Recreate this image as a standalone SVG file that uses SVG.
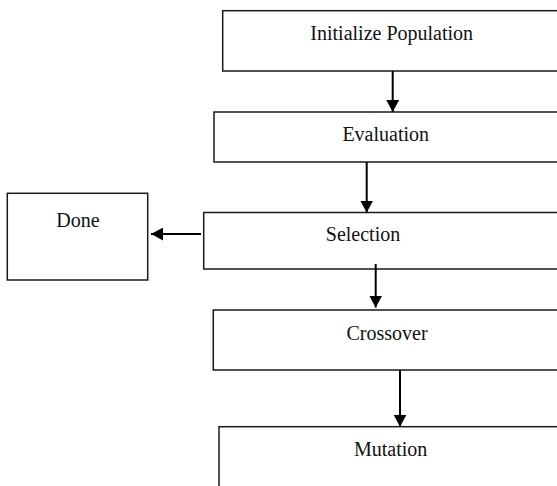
<svg xmlns="http://www.w3.org/2000/svg" width="557" height="486" viewBox="0 0 557 486">
<style>
.box{fill:#fff;stroke:#1a1a1a;stroke-width:1.5}
.lbl{font-family:"Liberation Serif","Times New Roman",serif;font-size:20px;fill:#111;text-anchor:middle}
.arr{stroke:#000;stroke-width:2;fill:none}
</style>
<defs>
<marker id="ah" viewBox="0 0 12 13" refX="12" refY="6.5" markerWidth="12" markerHeight="13" markerUnits="userSpaceOnUse" orient="auto">
<path d="M0,0 L12,6.5 L0,13 Z" fill="#000"/>
</marker>
</defs>
<rect width="557" height="486" fill="#fff"/>
<g id="init"><rect class="box" x="222.7" y="10.7" width="360" height="60.3"/><text class="lbl" x="391.7" y="40">Initialize Population</text></g>
<g id="evaluation"><rect class="box" x="214" y="112" width="370" height="50"/><text class="lbl" x="385.7" y="141">Evaluation</text></g>
<g id="done"><rect class="box" x="7.3" y="193.3" width="140.4" height="86.7"/><text class="lbl" x="78" y="226.5">Done</text></g>
<g id="selection"><rect class="box" x="203.7" y="212.5" width="380" height="56.5"/><text class="lbl" x="363" y="240.5">Selection</text></g>
<g id="crossover"><rect class="box" x="213.3" y="310" width="370" height="60"/><text class="lbl" x="387" y="340">Crossover</text></g>
<g id="mutation"><rect class="box" x="219" y="426.7" width="370" height="80"/><text class="lbl" x="390.7" y="456">Mutation</text></g>
<g id="connectors">
<line class="arr" x1="392.7" y1="71" x2="392.7" y2="112" marker-end="url(#ah)"/>
<line class="arr" x1="366.7" y1="162" x2="366.7" y2="212.5" marker-end="url(#ah)"/>
<line class="arr" x1="201" y1="234" x2="151" y2="234" marker-end="url(#ah)"/>
<line class="arr" x1="375.7" y1="264" x2="375.7" y2="307.5" marker-end="url(#ah)"/>
<line class="arr" x1="400" y1="370" x2="400" y2="426.7" marker-end="url(#ah)"/>
</g>
</svg>
